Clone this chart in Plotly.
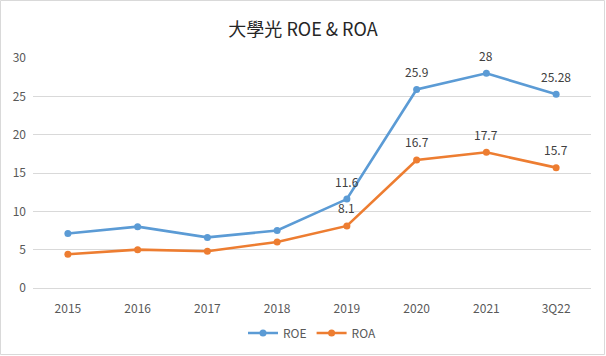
import plotly.graph_objects as go

categories = ["2015", "2016", "2017", "2018", "2019", "2020", "2021", "3Q22"]
roe = [7.1, 8.0, 6.6, 7.5, 11.6, 25.9, 28, 25.28]
roa = [4.4, 5.0, 4.8, 6.0, 8.1, 16.7, 17.7, 15.7]
roe_labels = ["", "", "", "", "11.6", "25.9", "28", "25.28"]
roa_labels = ["", "", "", "", "8.1", "16.7", "17.7", "15.7"]
y_ticks = [0, 5, 10, 15, 20, 25, 30]

FONT = "Noto Sans CJK TC, Noto Sans, sans-serif"

fig = go.Figure()
fig.add_trace(go.Scatter(
    x=categories, y=roe, name="ROE", mode="lines+markers",
    line=dict(color="#5B9BD5", width=2.6),
    marker=dict(size=7, color="#5B9BD5"),
))
fig.add_trace(go.Scatter(
    x=categories, y=roa, name="ROA", mode="lines+markers",
    line=dict(color="#ED7D31", width=2.6),
    marker=dict(size=7, color="#ED7D31"),
))

annotations = []
for ys, labels in ((roe, roe_labels), (roa, roa_labels)):
    for i, (yv, lab) in enumerate(zip(ys, labels)):
        if lab:
            # x given as category index so numeric-looking labels are not cast
            annotations.append(dict(x=i, y=yv, text=lab, showarrow=False,
                                    yshift=18, yanchor="middle",
                                    font=dict(size=12, color="#404040", family=FONT)))

L, R, T, B = 33, 15, 58, 68
W, H = 606, 356
pw, ph = W - L - R, H - T - B

fig.update_layout(
    width=W, height=H,
    margin=dict(l=L, r=R, t=T, b=B, autoexpand=False),
    paper_bgcolor="white", plot_bgcolor="white",
    font=dict(family=FONT, size=12, color="#595959"),
    title=dict(text="大學光 ROE & ROA", x=0.5, xanchor="center",
               y=1 - 30 / H, yanchor="middle",
               font=dict(size=18, color="#262626", family=FONT)),
    showlegend=True,
    legend=dict(orientation="h", x=0.5, xanchor="center",
                yref="container", y=1 - 333 / H, yanchor="middle",
                font=dict(size=12, color="#595959"), itemwidth=30),
    xaxis=dict(type="category", range=[-0.5, 7.5], showgrid=False,
               showline=True, linecolor="#d9d9d9", linewidth=1,
               automargin=False, ticklabelstandoff=10,
               ticks="", tickfont=dict(size=12, color="#595959")),
    yaxis=dict(range=[0, 30], tickvals=y_ticks, showgrid=True,
               gridcolor="#d9d9d9", gridwidth=1, zeroline=False,
               showline=False, ticks="", ticklabelstandoff=6,
               automargin=False,
               tickfont=dict(size=12, color="#595959")),
    annotations=annotations,
    shapes=[dict(type="rect", xref="paper", yref="paper",
                 x0=-(L - 0.5) / pw, x1=1 + (R - 1.5) / pw,
                 y0=-(B - 1.5) / ph, y1=1 + (T - 0.5) / ph,
                 line=dict(color="#d9d9d9", width=1), layer="below")],
)

fig.write_html("out.html", config={"displayModeBar": False},
               post_script="document.body.style.margin='0';")
